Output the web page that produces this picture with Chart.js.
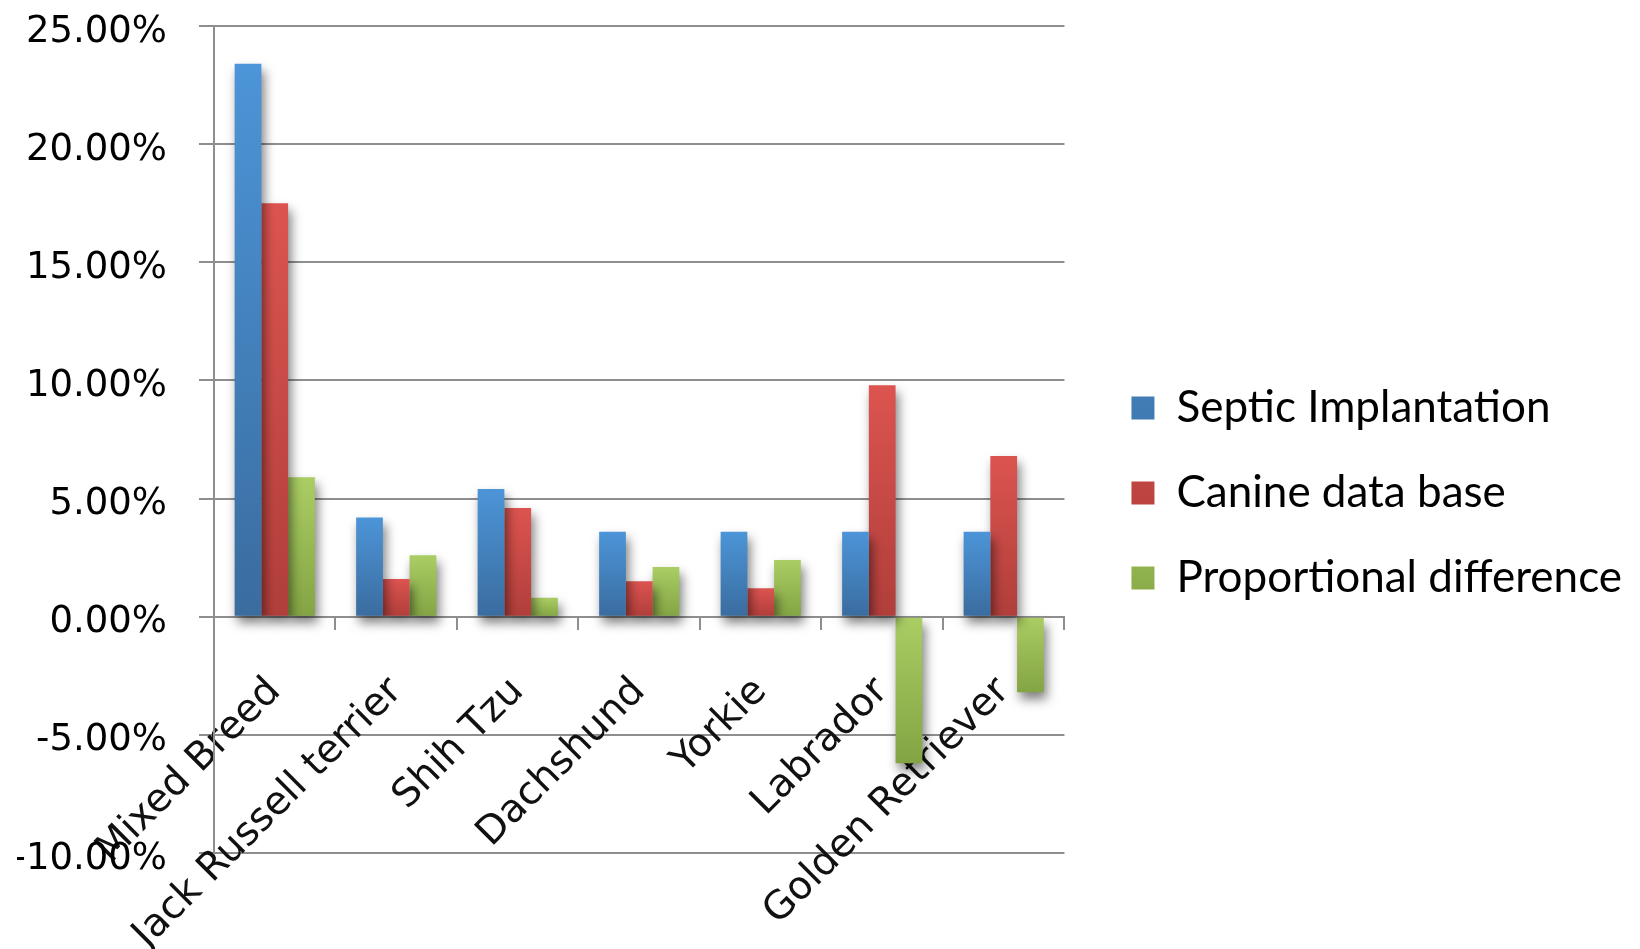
<!DOCTYPE html>
<html>
<head>
<meta charset="utf-8">
<title>Septic implantation by breed</title>
<script src="https://cdn.jsdelivr.net/npm/chart.js@4/dist/chart.umd.min.js"></script>
<style>
  html, body { margin: 0; padding: 0; background: #fff; }
  #wrap { width: 1640px; height: 949px; }
</style>
</head>
<body>
<div id="wrap"><canvas id="grafico" width="1640" height="949"></canvas></div>
<script>
// breeds and percentages (values in %)
const breeds = ['Mixed Breed', 'Jack Russell terrier', 'Shih Tzu', 'Dachshund', 'Yorkie', 'Labrador', 'Golden Retriever'];
const septicImplantation = [23.4, 4.2, 5.4, 3.6, 3.6, 3.6, 3.6];
const canineDataBase = [17.5, 1.6, 4.6, 1.5, 1.2, 9.8, 6.8];
const proportionalDiff = [5.9, 2.6, 0.8, 2.1, 2.4, -6.2, -3.2];
const seriesNames = ['Septic Implantation', 'Canine data base', 'Proportional difference'];
const yMin = -10, yMax = 25, yStep = 5;

const gridGray = '#8e8e8e';

// vertical gradient per bar, lighter next to the axis top, darker at the far end
function barFill(light, dark, flat) {
  return function(ctx) {
    if (ctx.type !== 'data') return flat;
    const chart = ctx.chart;
    const y = chart.scales.y;
    if (!chart.chartArea || !y) return flat;
    const p0 = y.getPixelForValue(0);
    const p1 = y.getPixelForValue(ctx.raw);
    if (Math.abs(p1 - p0) < 1) return flat;
    const g = chart.ctx.createLinearGradient(0, Math.min(p0, p1), 0, Math.max(p0, p1));
    g.addColorStop(0, light);
    g.addColorStop(1, dark);
    return g;
  };
}

// soft drop shadow under the bars
const sombraBarras = {
  id: 'sombraBarras',
  beforeDatasetsDraw(chart) {
    const c = chart.ctx;
    c.save();
    c.shadowColor = 'rgba(0,0,0,0.5)';
    c.shadowBlur = 11;
    c.shadowOffsetX = 3;
    c.shadowOffsetY = 7;
  },
  afterDatasetsDraw(chart) {
    chart.ctx.restore();
  }
};

const ctx = document.getElementById('grafico').getContext('2d');
new Chart(ctx, {
  type: 'bar',
  data: {
    labels: breeds,
    datasets: [
      {
        label: seriesNames[0],
        data: septicImplantation,
        backgroundColor: barFill('#4c95d8', '#3a6c9f', '#4280c0'),
        xAxisID: 'x', yAxisID: 'y'
      },
      {
        label: seriesNames[1],
        data: canineDataBase,
        backgroundColor: barFill('#dc5450', '#b03e3a', '#c84a46'),
        xAxisID: 'x', yAxisID: 'y'
      },
      {
        label: seriesNames[2],
        data: proportionalDiff,
        backgroundColor: barFill('#aacd64', '#83a443', '#97b954'),
        xAxisID: 'x', yAxisID: 'y'
      }
    ]
  },
  options: {
    responsive: false,
    animation: false,
    events: [],
    categoryPercentage: 0.66,
    barPercentage: 1.0,
    layout: {
      padding: { top: 26, right: 8, bottom: 0, left: 17 }
    },
    scales: {
      x: {
        position: { y: 0 },
        offset: true,
        grid: {
          offset: true,
          drawOnChartArea: false,
          drawTicks: true,
          tickLength: 12,
          color: gridGray,
          lineWidth: 2
        },
        border: { display: true, color: gridGray, width: 2 },
        ticks: {
          autoSkip: false,
          minRotation: 45,
          maxRotation: 45,
          padding: 40,
          color: '#111',
          font: { family: 'DejaVu Sans', size: 39 }
        },
        // slanted names may run past the plot on the left
        afterFit(s) { s.paddingLeft = 0; s.paddingRight = 0; }
      },
      // keeps the room below the plot for the slanted breed names
      xEspacio: {
        type: 'category',
        position: 'bottom',
        grid: { display: false },
        border: { display: false },
        ticks: { display: false },
        afterFit(s) { s.height = 96; }
      },
      y: {
        min: yMin,
        max: yMax,
        ticks: {
          stepSize: yStep,
          padding: 32,
          labelOffset: 6,
          color: '#000',
          font: { family: 'DejaVu Sans', size: 37 },
          callback: v => v.toFixed(2) + '%'
        },
        grid: {
          color: gridGray,
          lineWidth: 2,
          drawTicks: true,
          tickLength: 15
        },
        border: { display: true, color: gridGray, width: 2 },
        afterFit(s) { s.width = 197; s.paddingTop = 0; s.paddingBottom = 0; }
      },
      // gap between plot and legend
      yEspacio: {
        type: 'linear',
        position: 'right',
        grid: { display: false },
        border: { display: false },
        ticks: { display: false },
        afterFit(s) { s.width = 26; }
      }
    },
    plugins: {
      legend: {
        position: 'right',
        maxWidth: 600,
        // empty title only pushes the items a little lower
        title: {
          display: true,
          text: '',
          font: { size: 1, lineHeight: 1 },
          padding: { top: 10, bottom: 0 }
        },
        labels: {
          boxWidth: 23,
          boxHeight: 23,
          padding: 41,
          color: '#000',
          font: { family: 'Lato', size: 44 }
        }
      },
      tooltip: { enabled: false }
    }
  },
  plugins: [sombraBarras]
});
</script>
</body>
</html>
